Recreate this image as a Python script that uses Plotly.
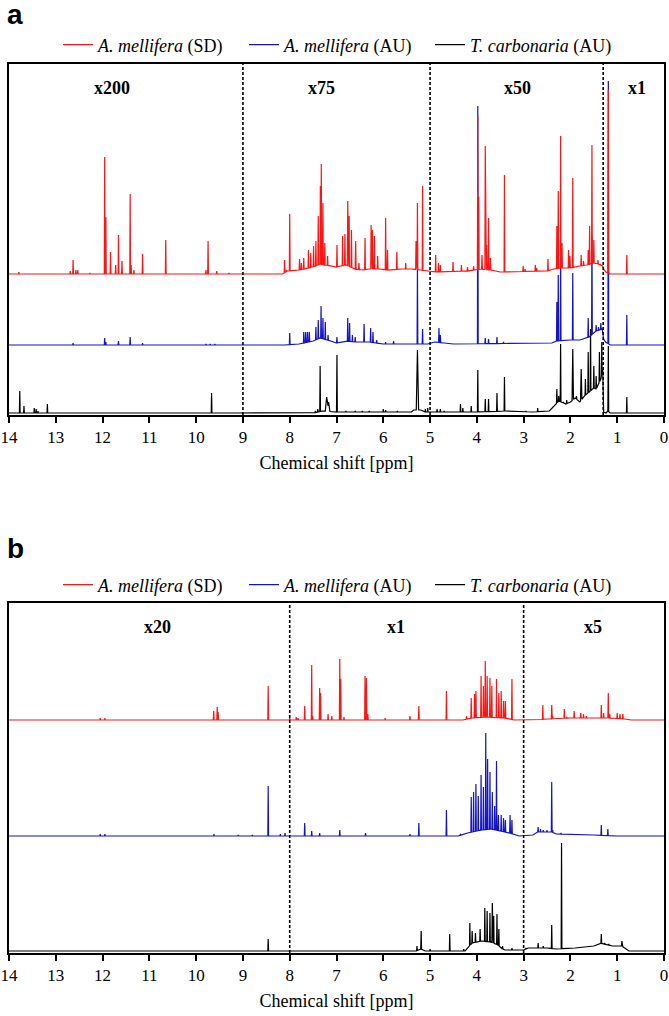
import numpy as np
import plotly.graph_objects as go

# ---------------- data ----------------
# peaks: (ppm, height above the series' reference level, [half-width ppm])
# offsets: baseline knots (ppm, level above the series' reference level)

series_names = ["<i>A. mellifera</i> (SD)", "<i>A. mellifera</i> (AU)", "<i>T. carbonaria</i> (AU)"]
series_colors = ["#ff1414", "#1414c0", "#000000"]

# ---- panel a ----
a_levels = [141, 70, 1]
a_red_peaks = [
    (13.79, 2), (12.69, 3), (12.63, 14), (12.57, 4), (12.53, 4), (12.27, 1), (11.955, 117), (11.93, 57),
    (11.83, 22), (11.72, 9), (11.66, 39), (11.585, 13), (11.41, 80), (11.39, 9), (11.33, 4), (11.145, 20),
    (10.65, 34), (9.79, 4), (9.745, 33), (9.56, 3), (9.3, 1),
    (8.11, 14), (8.07, 4), (8.00, 60), (7.79, 15), (7.75, 11), (7.70, 16), (7.60, 24), (7.55, 21), (7.49, 28),
    (7.44, 33), (7.39, 58), (7.345, 88), (7.325, 110), (7.29, 71), (7.25, 31), (7.19, 18), (6.99, 29),
    (6.87, 38), (6.82, 40), (6.76, 73), (6.73, 58), (6.68, 44), (6.59, 33), (6.52, 11), (6.39, 36), (6.26, 49),
    (6.23, 44), (6.19, 38), (6.12, 18), (5.95, 56), (5.91, 24), (5.71, 22), (5.52, 11), (5.30, 33), (5.27, 71),
    (5.16, 88),
    (4.88, 19), (4.82, 11), (4.78, 9), (4.51, 12), (4.33, 9), (4.20, 7), (4.07, 8), (3.98, 159), (3.96, 77),
    (3.89, 19), (3.82, 128), (3.79, 29), (3.75, 56), (3.71, 16), (3.41, 99), (3.01, 8), (2.97, 5), (2.75, 9),
    (2.72, 6), (2.48, 15), (2.29, 48), (2.26, 83), (2.21, 138), (2.18, 31), (2.04, 24), (2.01, 18), (1.95, 96),
    (1.77, 19), (1.72, 13), (1.62, 24), (1.59, 48), (1.54, 129), (1.50, 34), (1.41, 14), (1.36, 10),
    (1.19, 184), (0.795, 19),
]
a_red_offsets = [
    (14, 0), (8.15, 0), (8.05, 3), (7.8, 4), (7.6, 6), (7.45, 8), (7.35, 10), (7.25, 9), (7.1, 8), (7.0, 7),
    (6.9, 8), (6.8, 9), (6.7, 7), (6.6, 5), (6.45, 4), (6.3, 5), (6.1, 5), (5.9, 4), (5.6, 5), (5.4, 5),
    (5.2, 4), (5.05, 3), (4.95, 2), (4.2, 3), (3.9, 5), (3.7, 4), (3.5, 2), (2.5, 3), (2.35, 5), (2.2, 6),
    (2.0, 6), (1.8, 8), (1.65, 9), (1.5, 11), (1.4, 10), (1.31, 8), (1.28, 4), (1.24, 2), (1.15, 0), (0, 0),
]
a_blue_peaks = [
    (12.63, 2), (11.955, 7), (11.93, 3), (11.66, 4), (11.41, 8), (11.145, 2), (9.79, 1), (9.7, 1), (9.6, 1),
    (8.00, 12), (7.70, 13), (7.66, 13), (7.62, 13), (7.58, 13), (7.44, 18), (7.39, 25), (7.33, 39), (7.29, 27),
    (7.24, 23), (7.18, 10), (6.99, 8), (6.76, 27), (6.72, 22), (6.66, 10), (6.60, 8), (6.41, 21), (6.27, 17),
    (6.22, 13), (6.14, 5), (5.95, 3), (5.78, 4), (5.27, 75), (5.16, 16),
    (4.81, 17), (4.78, 10), (3.98, 239), (3.82, 7), (3.75, 6), (3.57, 8), (3.43, 3), (2.29, 43), (2.26, 70),
    (2.21, 100), (1.95, 72), (1.62, 27), (1.54, 109), (1.45, 20), (1.40, 18), (1.35, 22),
    (1.19, 264), (0.795, 30),
]
a_blue_offsets = [
    (14, 0), (8.1, 0), (7.8, 1), (7.5, 4), (7.35, 7), (7.2, 5), (7.0, 2), (6.8, 4), (6.6, 3), (6.3, 3),
    (6.0, 1), (5.5, 1), (5.05, 1), (4.9, 3), (4.7, 2), (4.5, 1), (2.4, 2), (2.3, 4), (2.0, 5), (1.8, 5),
    (1.6, 8), (1.45, 14), (1.32, 16), (1.29, 6), (1.25, 3), (1.15, 0), (0, 0),
]
a_black_peaks = [
    (13.77, 23), (13.68, 8), (13.46, 6), (13.42, 5), (13.38, 3), (13.18, 10), (12.63, 1), (11.93, 1),
    (9.67, 21), (9.1, 1),
    (7.45, 3), (7.40, 5), (7.35, 48), (7.21, 17, 0.03), (7.17, 12, 0.03), (6.99, 59), (6.8, 3), (6.6, 3),
    (6.45, 3), (6.3, 3), (6.0, 5), (5.95, 4), (5.7, 3), (5.27, 64, 0.025), (5.10, 5), (5.05, 6),
    (4.85, 5), (4.78, 5), (4.7, 3), (4.35, 10), (4.30, 6), (4.12, 8), (3.98, 44), (3.82, 15), (3.75, 15),
    (3.57, 21), (3.41, 37), (2.95, 3), (2.70, 6), (2.29, 25), (2.25, 18), (2.21, 70), (2.15, 12), (2.08, 14),
    (1.95, 65, 0.015), (1.87, 18), (1.77, 45, 0.015), (1.68, 35), (1.62, 62), (1.57, 85), (1.50, 48),
    (1.45, 38), (1.38, 62), (1.33, 72), (1.19, 68), (0.795, 17),
]
a_black_offsets = [
    (14, 1), (9, 1), (7.5, 1), (7.3, 3), (7.0, 2), (6.0, 2), (5.4, 2), (5.35, 4), (5.2, 4), (5.1, 2), (4.0, 2),
    (3.4, 3), (2.8, 2), (2.45, 3), (2.35, 8), (2.25, 13), (2.1, 10), (2.0, 12), (1.9, 16), (1.8, 12), (1.7, 18),
    (1.6, 22), (1.5, 26), (1.45, 25), (1.4, 30), (1.35, 35), (1.31, 45), (1.29, 2), (1.24, 1), (1.2, 3),
    (1.15, 1), (0, 1),
]
a_dividers = [9, 5, 1.3]
a_scale_labels = ["x200", "x75", "x50", "x1"]
a_scale_pos = [11.8, 7.33, 3.13, 0.58]

# ---- panel b ----
b_levels = [233, 117, 1]
b_red_peaks = [
    (12.05, 2), (11.95, 2), (9.625, 9), (9.55, 13), (9.53, 8), (8.46, 34), (8.0, 2),
    (7.86, 3), (7.82, 2), (7.68, 14), (7.53, 55), (7.51, 4), (7.36, 32), (7.34, 27), (7.18, 6), (7.10, 4),
    (6.93, 61), (6.91, 41), (6.84, 3), (6.39, 44), (6.36, 42), (6.33, 6), (5.96, 2), (5.43, 4), (5.24, 14),
    (4.65, 29), (4.22, 4), (4.12, 22), (4.05, 26), (4.02, 29), (3.91, 44), (3.86, 34), (3.82, 59), (3.78, 44),
    (3.72, 42), (3.68, 34), (3.58, 41), (3.53, 27), (3.48, 29), (3.43, 19), (3.39, 19), (3.25, 41),
    (2.59, 15), (2.40, 15), (2.38, 4), (2.13, 11), (2.08, 3), (1.92, 9), (1.78, 7), (1.72, 6), (1.66, 4),
    (1.58, 2), (1.34, 15), (1.29, 7), (1.19, 27), (1.16, 6), (1.00, 7), (0.94, 6), (0.88, 6),
]
b_red_offsets = [
    (14, 0), (4.3, 0), (4.1, 2), (3.8, 3), (3.4, 2), (3.2, 0), (2.7, 0), (2.5, 1), (2.0, 2), (1.4, 2),
    (1.2, 2), (0.8, 1), (0.7, 0), (0, 0),
]
b_blue_peaks = [
    (12.05, 2), (11.95, 2), (9.62, 2), (9.1, 1), (8.8, 1), (8.46, 50), (8.2, 2), (8.1, 3),
    (7.68, 13), (7.53, 5), (7.36, 3), (6.93, 6), (6.38, 3), (5.43, 2), (5.24, 13), (4.65, 26), (4.35, 2),
    (4.12, 39), (4.07, 44), (4.02, 52), (3.97, 40), (3.91, 61), (3.86, 49), (3.81, 103), (3.77, 77), (3.72, 64),
    (3.67, 44), (3.62, 30), (3.58, 75), (3.54, 21), (3.48, 21), (3.43, 18), (3.39, 16), (3.29, 21), (3.25, 16),
    (2.69, 9), (2.64, 7), (2.58, 6), (2.50, 6), (2.40, 54), (2.38, 6), (2.2, 3), (1.34, 11), (1.20, 7),
]
b_blue_offsets = [
    (14, 0), (4.4, 0), (4.2, 3), (3.9, 6), (3.7, 7), (3.5, 5), (3.3, 3), (3.1, 0), (2.8, 1), (2.7, 4),
    (2.4, 4), (2.3, 2), (1.5, 1), (1.0, 0), (0, 0),
]
b_black_peaks = [
    (12.0, 1), (8.46, 13), (5.28, 6), (5.19, 21), (5.0, 3), (4.58, 18), (4.28, 3), (4.15, 29), (4.10, 21),
    (4.03, 19), (3.93, 23), (3.83, 44), (3.78, 41), (3.72, 39), (3.67, 49), (3.64, 36), (3.57, 38), (3.53, 23),
    (3.45, 6), (3.25, 4), (2.95, 4), (2.69, 9), (2.58, 6), (2.40, 27), (2.19, 109), (2.05, 3), (1.34, 18),
    (1.27, 9), (1.18, 8), (0.9, 11), (0.88, 5),
]
b_black_offsets = [
    (14, 1), (5.3, 1), (5.2, 3), (5.1, 1), (4.25, 1), (4.18, 5), (4.1, 9), (3.9, 11), (3.7, 10), (3.55, 7),
    (3.45, 3), (3.4, 2), (3.0, 2), (2.9, 4), (2.5, 4), (2.3, 3), (1.9, 4), (1.5, 6), (1.37, 9), (1.1, 6),
    (0.9, 6), (0.75, 1), (0, 1),
]
b_dividers = [8, 3]
b_scale_labels = ["x20", "x1", "x5"]
b_scale_pos = [10.83, 5.73, 1.52]

x_ticks = list(range(0, 15))


# ---------------- build spectra lines from the peak lists ----------------
def build(peaks, offsets, level, default_w=0.008):
    kx = np.array([o[0] for o in offsets], dtype=float)
    ky = np.array([o[1] for o in offsets], dtype=float)
    order = np.argsort(kx)
    kx, ky = kx[order], ky[order]
    pts = set(kx.tolist())
    plist = []
    for pk in peaks:
        p, h = pk[0], pk[1]
        w = pk[2] if len(pk) > 2 else default_w
        plist.append((p, h, w))
        pts.update([p - w, p, p + w])
    xs = np.array(sorted(pts, reverse=True))
    xs = xs[(xs >= 0) & (xs <= 14)]
    off = np.interp(xs, kx, ky)
    tri = np.zeros_like(xs)
    for p, h, w in plist:
        tri = np.maximum(tri, np.clip(1 - np.abs(xs - p) / w, 0, None) * h)
    return xs, level + np.maximum(off, tri)


SERIF = "Liberation Serif, Times New Roman, serif"
fig = go.Figure()

panels = [
    ("x", "y", "legend", a_levels, [a_red_peaks, a_blue_peaks, a_black_peaks],
     [a_red_offsets, a_blue_offsets, a_black_offsets]),
    ("x2", "y2", "legend2", b_levels, [b_red_peaks, b_blue_peaks, b_black_peaks],
     [b_red_offsets, b_blue_offsets, b_black_offsets]),
]
for xa, ya, lg, levels, pk_sets, off_sets in panels:
    for i in [2, 1, 0]:  # draw black, blue, red (red on top)
        xs, ys = build(pk_sets[i], off_sets[i], levels[i])
        fig.add_trace(go.Scatter(
            x=xs, y=ys, mode="lines", name=series_names[i],
            line=dict(color=series_colors[i], width=1.2),
            xaxis=xa, yaxis=ya, legend=lg, hoverinfo="skip",
        ))

W, H = 669, 1016
left, right = 9 / W, 664 / W
a_dom = [1 - 415 / H, 1 - 64 / H]
b_dom = [1 - 953 / H, 1 - 603 / H]

xcommon = dict(
    range=[14, 0], tickmode="array", tickvals=x_ticks, ticktext=[str(t) for t in x_ticks],
    ticks="outside", ticklen=6, tickwidth=2, tickcolor="black", ticklabeloverflow="allow",
    automargin=False,
    showline=True, linewidth=2, linecolor="black", mirror=True,
    showgrid=False, zeroline=False,
    tickfont=dict(family=SERIF, size=17, color="black"),
    title=dict(text="Chemical shift [ppm]", font=dict(family=SERIF, size=18, color="black"), standoff=10),
    domain=[left, right],
)
ycommon = dict(showline=True, linewidth=2, linecolor="black", mirror=True, showgrid=False,
               zeroline=False, showticklabels=False, ticks="", automargin=False)

legend_common = dict(
    orientation="h", xanchor="left", yanchor="middle", bgcolor="rgba(0,0,0,0)",
    font=dict(family=SERIF, size=18, color="black"), itemwidth=30,
    entrywidth=141, entrywidthmode="pixels", traceorder="reversed",
)

fig.update_layout(
    width=W, height=H, margin=dict(l=0, r=0, t=0, b=0, autoexpand=False),
    paper_bgcolor="white", plot_bgcolor="white", showlegend=True,
    xaxis=dict(**xcommon, anchor="y"),
    yaxis=dict(**ycommon, range=[0, 351], domain=a_dom, anchor="x"),
    xaxis2=dict(**xcommon, anchor="y2"),
    yaxis2=dict(**ycommon, range=[0, 350], domain=b_dom, anchor="x2"),
    legend=dict(**legend_common, x=58 / W, y=1 - 45 / H),
    legend2=dict(**legend_common, x=58 / W, y=1 - 585 / H),
)

for xa, ya, divs in [("x", "y", a_dividers), ("x2", "y2", b_dividers)]:
    for d in divs:
        fig.add_shape(type="line", xref=xa, yref=f"{ya} domain", x0=d, x1=d, y0=0, y1=1,
                      line=dict(color="black", width=1.6, dash="3px,2px"))

for xa, ya, labs, pos, yv in [("x", "y", a_scale_labels, a_scale_pos, 327),
                              ("x2", "y2", b_scale_labels, b_scale_pos, 326)]:
    for t, p in zip(labs, pos):
        fig.add_annotation(x=p, y=yv, xref=xa, yref=ya, text=f"<b>{t}</b>", showarrow=False,
                           font=dict(family=SERIF, size=18, color="black"))

for t, yy in [("a", 15), ("b", 548)]:
    fig.add_annotation(x=5 / W, y=1 - yy / H, xref="paper", yref="paper", text=f"<b>{t}</b>",
                       showarrow=False, xanchor="left", yanchor="middle",
                       font=dict(family="Liberation Sans, Arial, sans-serif", size=28, color="black"))

fig.write_html("out.html")
